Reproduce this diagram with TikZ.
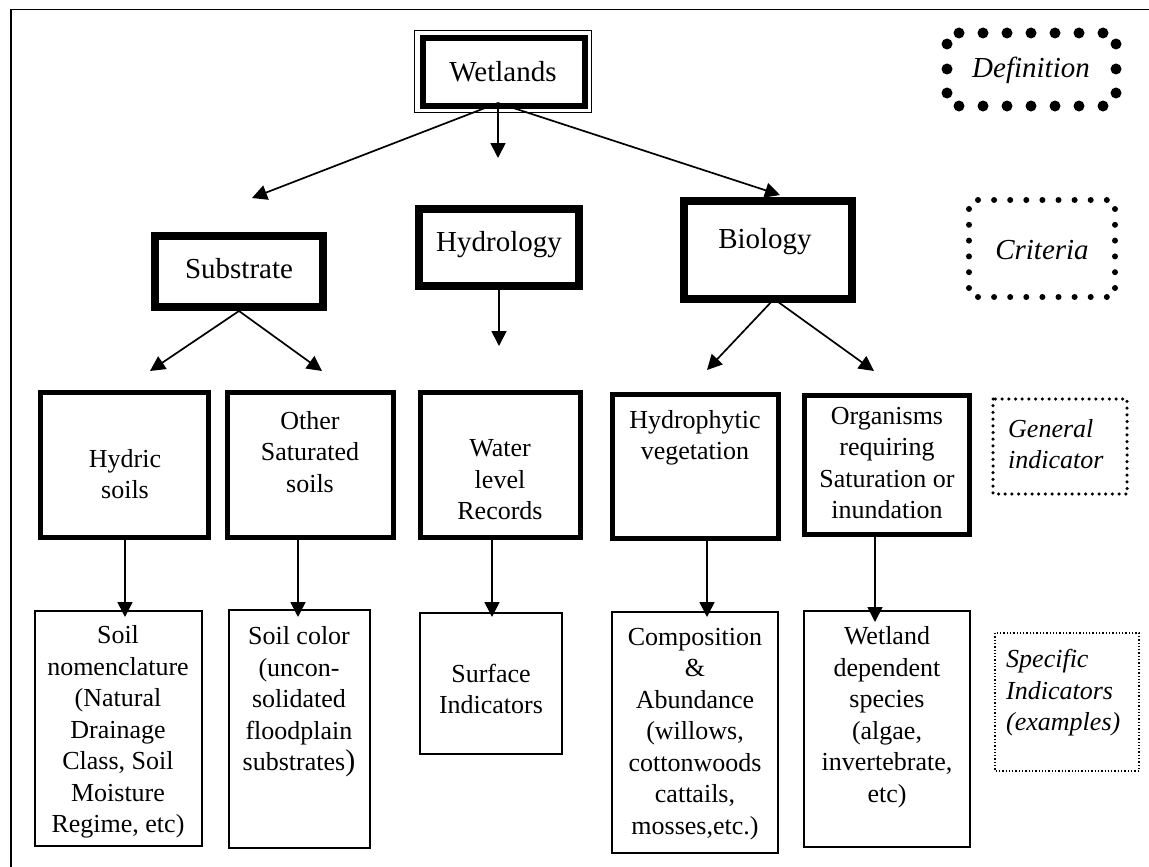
\documentclass[tikz,border=0pt]{standalone}
\usepackage{fontspec}
\setmainfont{Liberation Serif}
\usetikzlibrary{arrows.meta,fit}
\begin{document}
\begin{tikzpicture}[x=1pt,y=-1pt,
  crit/.style={draw, line width=8pt, inner sep=0pt},
  gen/.style={draw, line width=5pt, inner sep=0pt},
  spec/.style={draw, line width=1.7pt, inner sep=0pt},
  big/.style={font=\fontsize{29}{34}\selectfont, inner sep=0pt, align=center},
  txt/.style={font=\fontsize{26}{31.5}\selectfont, inner sep=0pt, align=center},
  leg/.style={font=\fontsize{26}{31.5}\selectfont\itshape, inner sep=0pt, align=left},
  legbig/.style={font=\fontsize{29}{34}\selectfont\itshape, inner sep=0pt},
  arr/.style={line width=1.7pt, -{Triangle[length=15pt,width=15pt]}},
]
\useasboundingbox (0,0) rectangle (1149,867);
% frame
\draw[line width=1.7pt] (11,867) -- (11,9.5) -- (1149,9.5);

% Wetlands
\node[draw, line width=1.3pt, inner sep=0pt, fit={(414.3,30.7) (591.3,112.3)}] (wetout) {};
\node[draw, line width=6pt, inner sep=0pt, fit={(422.5,38.5) (584.5,105.5)}] (wet) {};
\node[big] (wett) at (503,72) {Wetlands};

% criteria
\node[crit, fit={(155,236) (323,307)}] (sub) {};
\node[crit, fit={(419,209) (579,286)}] (hyd) {};
\node[crit, fit={(684,201) (852,299)}] (bio) {};
\node[big] (subt) at (239,269) {Substrate};
\node[big] (hydt) at (499,245) {Hydrology};
\node[big] (biot) at (765,242) {Biology};

% general indicators
\node[gen, fit={(40.5,392.5) (208.5,537.5)}] (hydric) {};
\node[gen, fit={(227.5,392.5) (393.5,537.5)}] (other) {};
\node[gen, fit={(420.5,392.5) (580.5,537.5)}] (water) {};
\node[gen, fit={(612.5,394.5) (778.5,538.5)}] (hveg) {};
\node[gen, fit={(804.5,395.5) (969.5,534.5)}] (org) {};
\node[txt] (hydrict) at (125,474) {Hydric\\soils};
\node[txt] (othert) at (310,452) {Other\\Saturated\\soils};
\node[txt] (watert) at (500,480) {Water\\level\\Records};
\node[txt] (hvegt) at (695,438) {Hydrophytic\\vegetation};
\node[txt] (orgt) at (887,463) {Organisms\\requiring\\Saturation or\\inundation};

% specific indicators
\node[spec, fit={(35,611) (202,846)}] (nom) {};
\node[spec, fit={(229,610) (370,848)}] (col) {};
\node[spec, fit={(420,613) (562,754)}] (surf) {};
\node[spec, fit={(612,612) (778,853)}] (comp) {};
\node[spec, fit={(804,611) (970,847)}] (wdep) {};
\node[txt] (nomt) at (118,732) {Soil\\nomenclature\\(Natural\\Drainage\\Class, Soil\\Moisture\\Regime, etc)};
\node[txt] (colt) at (299,702) {Soil color\\(uncon-\\solidated\\floodplain\\substrates{\fontsize{30}{31.5}\selectfont)}};
\node[txt] (surft) at (491,689) {Surface\\Indicators};
\node[txt] (compt) at (695,734) {Composition\\\&\\Abundance\\(willows,\\cottonwoods\\cattails,\\mosses,etc.)};
\node[txt] (wdept) at (887,717) {Wetland\\dependent\\species\\(algae,\\invertebrate,\\etc)};

% arrows
\coordinate (wsrc) at (498,103);
\coordinate (subin) at (252,198);
\coordinate (hydin) at (498,158);
\coordinate (bioin) at (780,195);
\draw[arr] (wsrc) -- (subin);
\draw[arr] (wsrc) -- (hydin);
\draw[arr] (wsrc) -- (bioin);

\coordinate (hydricin) at (150,371);
\coordinate (otherin) at (322,371);
\draw[arr] (sub.south) -- (hydricin);
\draw[arr] (sub.south) -- (otherin);

\coordinate (waterin) at (499,346);
\draw[arr] (hyd.south) -- (waterin);

\coordinate (biosrc) at (774,299);
\coordinate (hvegin) at (707,370);
\coordinate (orgin) at (874,371);
\draw[arr] (biosrc) -- (hvegin);
\draw[arr] (biosrc) -- (orgin);

\coordinate (s1) at (125,538); \coordinate (t1) at (125,617);
\coordinate (s2) at (298,538); \coordinate (t2) at (298,617);
\coordinate (s3) at (492,538); \coordinate (t3) at (492,617);
\coordinate (s4) at (707,539); \coordinate (t4) at (707,617);
\coordinate (s5) at (875,535); \coordinate (t5) at (875,622);
\draw[arr] (s1) -- (t1);
\draw[arr] (s2) -- (t2);
\draw[arr] (s3) -- (t3);
\draw[arr] (s4) -- (t4);
\draw[arr] (s5) -- (t5);

% legend
\foreach \i in {0,...,6} {
  \fill (959+24*\i,33) circle (5.5pt);
  \fill (959+24*\i,106) circle (5.5pt);
}
\foreach \j in {44,69,93} {
  \fill (947,\j) circle (5.5pt);
  \fill (1116,\j) circle (5.5pt);
}
\node[legbig] (deft) at (1031,70) {Definition};

\foreach \i in {0,...,8} {
  \fill (978+16.1*\i,200) circle (3pt);
  \fill (978+16.1*\i,297) circle (3pt);
}
\foreach \j in {0,...,5} {
  \fill (969,209+15.8*\j) circle (3pt);
  \fill (1115,209+15.8*\j) circle (3pt);
}
\node[legbig] (critt) at (1042,250) {Criteria};

\draw[line width=3.5pt, line cap=round, dash pattern=on 0pt off 6.7pt] (993,399) rectangle (1127,494);
\node[leg, anchor=west] (gent) at (1008,444) {General\\indicator};

\draw[line width=1.3pt, dotted] (995,633) rectangle (1139,771);
\node[leg, anchor=west] (spect) at (1006,693) {Specific\\Indicators\\(examples)};
\end{tikzpicture}
\end{document}
